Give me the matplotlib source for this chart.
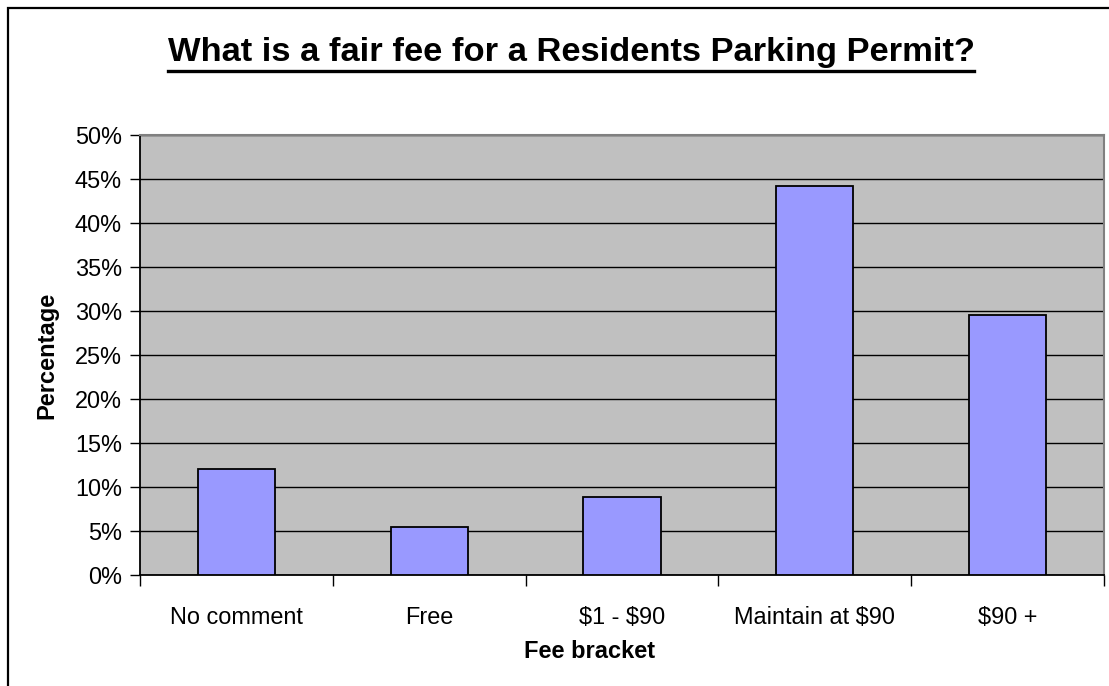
import matplotlib.pyplot as plt
from matplotlib.lines import Line2D
from matplotlib.patches import Rectangle
from matplotlib.ticker import FuncFormatter, FixedLocator

# survey results (percent of respondents)
categories = ['No comment', 'Free', '$1 - $90', 'Maintain at $90', '$90 +']
percentages = [12.0, 5.4, 8.9, 44.2, 29.6]

plt.rcParams['font.family'] = ['Liberation Sans', 'DejaVu Sans']

W, H = 1109, 686
fig = plt.figure(figsize=(W / 100, H / 100), dpi=100)
fig.patch.set_facecolor('white')

# outer chart frame (right/bottom edges are cut off in the original)
fig.add_artist(Rectangle((8 / W, -0.05), 1.2, 1 - 8 / H + 0.05,
                         transform=fig.transFigure, fill=False,
                         edgecolor='black', linewidth=1.6))

ax = fig.add_axes((140 / W, 1 - 575 / H, (1104 - 140) / W, (575 - 135) / H))
ax.set_facecolor('#C0C0C0')

x = range(len(categories))
ax.bar(x, percentages, width=0.4, color='#9999FF', edgecolor='black',
       linewidth=1.3, zorder=3)

ax.set_xlim(-0.5, len(categories) - 0.5)
ax.set_ylim(0, 50)
ax.set_yticks(range(0, 51, 5))
ax.yaxis.set_major_formatter(FuncFormatter(lambda v, p: '%d%%' % v))
ax.grid(axis='y', color='black', linewidth=1, zorder=1)
ax.set_axisbelow(True)

ax.set_xticks(list(x))
# escape $ so the labels are not read as mathtext
ax.set_xticklabels([c.replace('$', r'\$') for c in categories])
ax.xaxis.set_minor_locator(FixedLocator([i - 0.5 for i in range(len(categories) + 1)]))
ax.tick_params(axis='x', which='major', length=0, pad=22, labelsize=16.9)
ax.tick_params(axis='x', which='minor', length=8, width=1, color='black', direction='out')
ax.tick_params(axis='y', length=7, width=1, color='black', direction='out',
               pad=6, labelsize=16.9)

for side in ['top', 'right']:
    ax.spines[side].set_color('#808080')
    ax.spines[side].set_linewidth(1.5)
for side in ['left', 'bottom']:
    ax.spines[side].set_color('black')
    ax.spines[side].set_linewidth(1.3)

fig.text(590 / W, 1 - 651 / H, 'Fee bracket', ha='center', va='center',
         fontsize=17, fontweight='bold')
fig.text(47 / W, 1 - 355 / H, 'Percentage', ha='center', va='center',
         rotation=90, fontsize=17, fontweight='bold')

title = fig.text(571 / W, 1 - 53 / H, 'What is a fair fee for a Residents Parking Permit?',
                 ha='center', va='center', fontsize=24.8, fontweight='bold')

# underline the title
fig.canvas.draw()
bb = title.get_window_extent().transformed(fig.transFigure.inverted())
uy = 1 - 71 / H
fig.add_artist(Line2D([bb.x0, bb.x1], [uy, uy], transform=fig.transFigure,
                      color='black', linewidth=2.4))

fig.savefig('out.png', dpi=100)
